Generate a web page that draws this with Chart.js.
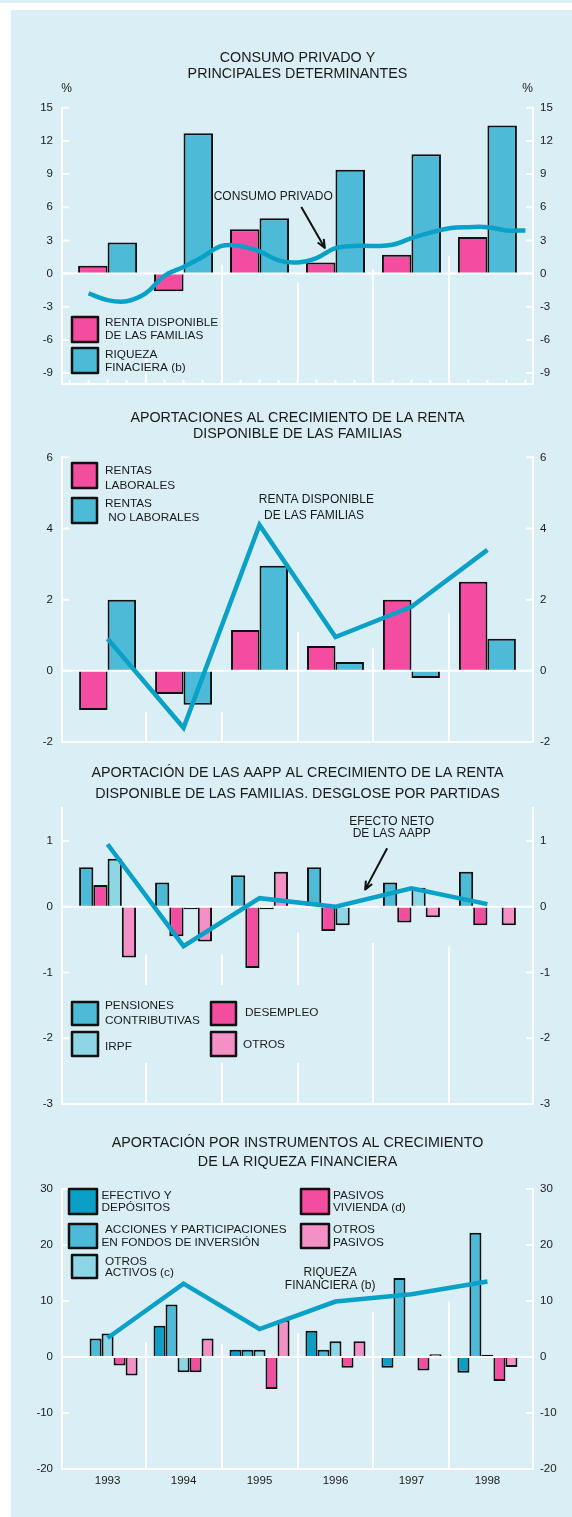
<!DOCTYPE html>
<html>
<head>
<meta charset="utf-8">
<script src="https://cdn.jsdelivr.net/npm/chart.js@4.4.1/dist/chart.umd.min.js"></script>
<style>
  body { margin: 0; background: #ffffff; width: 572px; height: 1517px; position: relative; overflow: hidden; }
  #strip { position: absolute; left: 0; top: 0; width: 572px; height: 3px; background: #d9eef5; }
  #box { position: absolute; left: 11px; top: 10px; width: 561px; height: 1507px; background: #d9eef5; }
  canvas { position: absolute; left: 0; }
</style>
</head>
<body>
<div id="strip"></div>
<div id="box"></div>
<canvas id="c1" width="572" height="360" style="top:40px"></canvas>
<canvas id="c2" width="572" height="360" style="top:400px"></canvas>
<canvas id="c3" width="572" height="360" style="top:760px"></canvas>
<canvas id="c4" width="572" height="397" style="top:1120px"></canvas>
<script>
// ---- data ----
var years = ['1993', '1994', '1995', '1996', '1997', '1998'];

// consumo privado y principales determinantes
var rentaDisponible = [0.7, -1.6, 4.0, 1.0, 1.7, 3.3];
var riquezaFinanciera = [2.8, 12.7, 5.0, 9.4, 10.8, 13.4];
var trimestres = [1993.25, 1993.5, 1993.75, 1994.0, 1994.25, 1994.5, 1994.75, 1995.0,
                  1995.25, 1995.5, 1995.75, 1996.0, 1996.25, 1996.5, 1996.75, 1997.0,
                  1997.25, 1997.5, 1997.75, 1998.0, 1998.25, 1998.5, 1998.75, 1999.0];
var consumoPrivado = [-1.8, -2.4, -2.5, -1.8, -0.2, 0.6, 1.5, 2.5,
                      2.5, 2.0, 1.2, 1.0, 1.4, 2.3, 2.5, 2.5,
                      2.6, 3.2, 3.7, 4.1, 4.2, 4.2, 3.9, 3.9];
var ticks1 = [-9, -6, -3, 0, 3, 6, 9, 12, 15];

// aportaciones al crecimiento de la renta disponible
var rentasLaborales = [-1.1, -0.65, 1.15, 0.7, 2.0, 2.5];
var rentasNoLaborales = [2.0, -0.95, 2.95, 0.25, -0.2, 0.9];
var rentaFamilias = [0.9, -1.6, 4.1, 0.95, 1.8, 3.4];
var ticks2 = [-2, 0, 2, 4, 6];

// aportacion de las AAPP
var pensiones = [0.6, 0.37, 0.48, 0.6, 0.37, 0.53];
var desempleo = [0.33, -0.45, -0.93, -0.37, -0.24, -0.28];
var irpf = [0.73, -0.04, -0.04, -0.28, 0.29, null];
var otros = [-0.77, -0.53, 0.53, null, -0.16, -0.28];
var efectoNeto = [0.95, -0.6, 0.13, 0.0, 0.28, 0.04];
var ticks3 = [-3, -2, -1, 0, 1];

// aportacion por instrumentos a la riqueza financiera
var efectivo = [0, 5.6, 1.3, 4.7, -1.9, -2.8];
var acciones = [3.3, 9.4, 1.3, 1.3, 14.1, 22.2];
var otrosActivos = [4.2, -2.7, 1.3, 2.8, null, 0.4];
var pasivosVivienda = [-1.5, -2.7, -5.7, -1.9, -2.4, -4.3];
var otrosPasivos = [-3.3, 3.3, 6.6, 2.8, 0.5, -1.8];
var riquezaLinea = [3.4, 13.1, 5.0, 9.9, 11.2, 13.5];
var ticks4 = [-20, -10, 0, 10, 20, 30];

// ---- style ----
var bg = '#d9eef5';
var pink = '#f24d9f', lightPink = '#f590c6';
var midBlue = '#4dbbd7', lightBlue = '#8ed5e5', darkBlue = '#0a9fc6';
var lineBlue = '#09a1c7';
var fontFamily = "'Liberation Sans', Arial, sans-serif";

Chart.defaults.font.family = fontFamily;
Chart.defaults.color = '#1a1a1a';

var centers = years.map(function (y) { return Number(y) + 0.5; });

function bar(label, data, color, pct) {
  return { type: 'bar', label: label, data: data, backgroundColor: color, borderColor: '#111111',
           borderWidth: 2, order: 1, categoryPercentage: pct, barPercentage: 1 };
}
function line(label, data, tension) {
  return { type: 'line', label: label, data: data, borderColor: lineBlue, borderWidth: 4.5,
           pointRadius: 0, tension: tension, order: 0, fill: false };
}

function yAxis(pos, min, max, vals, width, pad) {
  return {
    position: pos, min: min, max: max,
    afterBuildTicks: function (s) { s.ticks = vals.map(function (v) { return { value: v }; }); },
    afterFit: function (s) { s.width = width; },
    grid: { display: false, drawTicks: false },
    border: { display: true, color: '#ffffff', width: 2 },
    ticks: { padding: pad, font: { size: 11.5 } }
  };
}

function drawArrow(ctx, x1, y1, x2, y2) {
  var ang = Math.atan2(y2 - y1, x2 - x1), L = 9;
  ctx.beginPath();
  ctx.moveTo(x1, y1); ctx.lineTo(x2, y2);
  ctx.moveTo(x2 - L * Math.cos(ang - 0.4), y2 - L * Math.sin(ang - 0.4));
  ctx.lineTo(x2, y2);
  ctx.lineTo(x2 - L * Math.cos(ang + 0.4), y2 - L * Math.sin(ang + 0.4));
  ctx.stroke();
}

function decorPlugin(p) {
  return {
    id: 'decor',
    beforeDatasetsDraw: function (chart) {
      var ctx = chart.ctx, a = chart.chartArea, xs = chart.scales.x, ys = chart.scales.y;
      ctx.save();
      ctx.strokeStyle = '#ffffff';
      ctx.lineWidth = 2;
      ctx.beginPath();
      // year separators, only partly drawn like in the original
      p.sepTops.forEach(function (top, i) {
        var px = Math.round(xs.getPixelForValue(Number(years[i + 1])));
        ctx.moveTo(px, a.bottom);
        ctx.lineTo(px, ys.getPixelForValue(top));
      });
      ctx.moveTo(a.left, a.bottom); ctx.lineTo(a.right, a.bottom);
      ys.ticks.forEach(function (t) {
        var py = ys.getPixelForValue(t.value);
        ctx.moveTo(a.left, py); ctx.lineTo(a.left + 7, py);
        ctx.moveTo(a.right, py); ctx.lineTo(a.right - 7, py);
      });
      if (p.quarterTicks) {
        [1993].concat(trimestres).forEach(function (t) {
          var px = xs.getPixelForValue(t);
          ctx.moveTo(px, a.bottom); ctx.lineTo(px, a.bottom - 4);
        });
      }
      ctx.stroke();
      ctx.restore();
    },
    afterDatasetDraw: function (chart, args) {
      if (args.index !== 1) return;
      var ctx = chart.ctx, a = chart.chartArea, py = chart.scales.y.getPixelForValue(0);
      ctx.save();
      ctx.strokeStyle = '#ffffff';
      ctx.lineWidth = 2;
      ctx.beginPath(); ctx.moveTo(a.left, py); ctx.lineTo(a.right, py); ctx.stroke();
      ctx.restore();
    },
    afterDraw: function (chart) {
      var ctx = chart.ctx, a = chart.chartArea, xs = chart.scales.x, ys = chart.scales.y;
      ctx.save();
      if (p.legendBg) {
        ctx.fillStyle = bg;
        ctx.fillRect(a.left + p.legendBg[0], a.top + p.legendBg[1], p.legendBg[2], p.legendBg[3]);
      }
      ctx.font = '11.8px ' + fontFamily;
      ctx.textBaseline = 'middle';
      p.legend.forEach(function (it) {
        var ds = chart.data.datasets[it.ds];
        var bx = a.left + it.x, by = a.top + it.y;
        ctx.fillStyle = ds.backgroundColor;
        ctx.strokeStyle = '#111111';
        ctx.lineWidth = 2.5;
        ctx.lineJoin = 'round';
        ctx.fillRect(bx, by, it.w, it.h);
        ctx.strokeRect(bx, by, it.w, it.h);
        ctx.fillStyle = '#1a1a1a';
        ctx.textAlign = 'left';
        it.lines.forEach(function (l) { ctx.fillText(l[0], bx + l[1], by + l[2]); });
      });
      ctx.font = '12px ' + fontFamily;
      p.notes.forEach(function (n) {
        ctx.textAlign = n.align;
        ctx.fillText(n.text, xs.getPixelForValue(n.x), ys.getPixelForValue(n.y));
      });
      ctx.strokeStyle = '#111111';
      ctx.lineWidth = 2;
      p.arrows.forEach(function (r) {
        drawArrow(ctx, xs.getPixelForValue(r[0]), ys.getPixelForValue(r[1]),
                  xs.getPixelForValue(r[2]), ys.getPixelForValue(r[3]));
      });
      if (p.pct) {
        ctx.textAlign = 'center';
        ctx.fillText('%', a.left + 4.5, a.top - 19.5);
        ctx.fillText('%', a.right - 5.5, a.top - 19.5);
      }
      ctx.restore();
    }
  };
}

function makeChart(id, p) {
  return new Chart(document.getElementById(id), {
    type: 'bar',
    data: { labels: centers, datasets: p.datasets },
    options: {
      responsive: false,
      animation: false,
      events: [],
      layout: { padding: { top: p.padTop, bottom: p.padBottom, left: 0, right: 0 } },
      plugins: {
        legend: { display: false },
        tooltip: { enabled: false },
        title: {
          display: true, text: p.title, fullSize: false, color: '#1a1a1a',
          font: { size: 14.3, weight: 'normal', lineHeight: p.titleLH },
          padding: { top: 0, bottom: p.titleGap }
        }
      },
      scales: {
        x: {
          type: 'linear', min: 1992.9, max: 1999.1, offset: false,
          display: !!p.showYears,
          afterBuildTicks: function (s) { s.ticks = centers.map(function (v) { return { value: v }; }); },
          grid: { display: false, drawTicks: false },
          border: { display: false },
          ticks: {
            padding: 5, font: { size: 11.5 }, maxRotation: 0, autoSkip: false,
            callback: function (v) { return years[centers.indexOf(v)]; }
          }
        },
        y: yAxis('left', p.min, p.max, p.ticks, 62, 9),
        y2: yAxis('right', p.min, p.max, p.ticks, 39, 7)
      }
    },
    plugins: [decorPlugin(p)]
  });
}

// ---- panel 1 ----
makeChart('c1', {
  title: ['CONSUMO PRIVADO Y', 'PRINCIPALES DETERMINANTES'],
  padTop: 10.5, titleLH: 1.1, titleGap: 25.8, padBottom: 12,
  min: -10, max: 15, ticks: ticks1, pct: true, quarterTicks: true,
  datasets: [
    line('CONSUMO PRIVADO', trimestres.map(function (t, i) { return { x: t, y: consumoPrivado[i] }; }), 0.4),
    bar('RENTA DISPONIBLE DE LAS FAMILIAS', rentaDisponible, pink, 0.777),
    bar('RIQUEZA FINACIERA (b)', riquezaFinanciera, midBlue, 0.777)
  ],
  sepTops: [-7.7, 0.8, -0.8, 0.4, 1.6],
  legend: [
    { ds: 1, x: 10, y: 209.3, w: 26, h: 25, lines: [['RENTA DISPONIBLE', 33, 6], ['DE LAS FAMILIAS', 33, 19]] },
    { ds: 2, x: 10, y: 240.3, w: 26, h: 25, lines: [['RIQUEZA', 33, 7], ['FINACIERA (b)', 33, 20]] }
  ],
  notes: [{ text: 'CONSUMO PRIVADO', x: 1995.68, y: 6.93, align: 'center' }],
  arrows: [[1996.05, 6.03, 1996.36, 2.32]]
});

// ---- panel 2 ----
makeChart('c2', {
  title: ['APORTACIONES AL CRECIMIENTO DE LA RENTA', 'DISPONIBLE DE LAS FAMILIAS'],
  padTop: 10.3, titleLH: 1.12, titleGap: 15, padBottom: 18,
  min: -2, max: 6, ticks: ticks2,
  datasets: [
    line('RENTA DISPONIBLE DE LAS FAMILIAS', rentaFamilias, 0),
    bar('RENTAS LABORALES', rentasLaborales, pink, 0.75),
    bar('RENTAS NO LABORALES', rentasNoLaborales, midBlue, 0.75)
  ],
  sepTops: [-1.16, -1.16, 1.09, 0.64, 1.62],
  legend: [
    { ds: 1, x: 10, y: 5.7, w: 25, h: 25, lines: [['RENTAS', 33, 8], ['LABORALES', 33, 23]] },
    { ds: 2, x: 10, y: 40.7, w: 25, h: 25, lines: [['RENTAS', 33, 6], [' NO LABORALES', 33, 20]] }
  ],
  notes: [
    { text: 'RENTA DISPONIBLE', x: 1995.49, y: 4.81, align: 'left' },
    { text: 'DE LAS FAMILIAS', x: 1995.56, y: 4.36, align: 'left' }
  ],
  arrows: []
});

// ---- panel 3 ----
makeChart('c3', {
  title: ['APORTACIÓN DE LAS AAPP AL CRECIMIENTO DE LA RENTA', 'DISPONIBLE DE LAS FAMILIAS. DESGLOSE POR PARTIDAS'],
  padTop: 2.8, titleLH: 1.47, titleGap: 3.2, padBottom: 15,
  min: -3, max: 1.5, ticks: ticks3,
  datasets: [
    line('EFECTO NETO DE LAS AAPP', efectoNeto, 0),
    bar('PENSIONES CONTRIBUTIVAS', pensiones, midBlue, 0.75),
    bar('DESEMPLEO', desempleo, pink, 0.75),
    bar('IRPF', irpf, lightBlue, 0.75),
    bar('OTROS', otros, lightPink, 0.75)
  ],
  sepTops: [-0.73, -0.73, -0.39, -0.55, -0.6],
  legendBg: [8, 177, 252, 78],
  legend: [
    { ds: 1, x: 10, y: 194, w: 26, h: 23, lines: [['PENSIONES', 33, 4], ['CONTRIBUTIVAS', 33, 19]] },
    { ds: 3, x: 10, y: 224, w: 26, h: 24, lines: [['IRPF', 33, 15]] },
    { ds: 2, x: 149, y: 194, w: 25, h: 23, lines: [['DESEMPLEO', 34, 11]] },
    { ds: 4, x: 149, y: 224, w: 25, h: 24, lines: [['OTROS', 32, 13]] }
  ],
  notes: [
    { text: 'EFECTO NETO', x: 1997.24, y: 1.29, align: 'center' },
    { text: 'DE LAS AAPP', x: 1997.24, y: 1.11, align: 'center' }
  ],
  arrows: [[1997.18, 0.89, 1996.89, 0.26]]
});

// ---- panel 4 ----
makeChart('c4', {
  title: ['APORTACIÓN POR INSTRUMENTOS AL CRECIMIENTO', 'DE LA RIQUEZA FINANCIERA'],
  padTop: 13.8, titleLH: 1.33, titleGap: 17.2, padBottom: 24.2,
  min: -20, max: 30, ticks: ticks4, showYears: true,
  datasets: [
    line('RIQUEZA FINANCIERA (b)', riquezaLinea, 0),
    bar('EFECTIVO Y DEPÓSITOS', efectivo, darkBlue, 0.79),
    bar('ACCIONES Y PARTICIPACIONES EN FONDOS DE INVERSIÓN', acciones, midBlue, 0.79),
    bar('OTROS ACTIVOS (c)', otrosActivos, lightBlue, 0.79),
    bar('PASIVOS VIVIENDA (d)', pasivosVivienda, pink, 0.79),
    bar('OTROS PASIVOS', otrosPasivos, lightPink, 0.79)
  ],
  sepTops: [2.7, 2.3, 4.3, 8.1, 9.9],
  legend: [
    { ds: 1, x: 7, y: 0, w: 28, h: 25, lines: [['EFECTIVO Y', 32.5, 7], ['DEPÓSITOS', 32.5, 19]] },
    { ds: 2, x: 7, y: 35, w: 28, h: 24, lines: [['ACCIONES Y PARTICIPACIONES', 36, 6], ['EN FONDOS DE INVERSIÓN', 32.5, 19]] },
    { ds: 3, x: 10, y: 66, w: 25, h: 23, lines: [['OTROS', 33, 7], ['ACTIVOS (c)', 33, 18]] },
    { ds: 4, x: 239, y: 0, w: 28, h: 25, lines: [['PASIVOS', 32, 7], ['VIVIENDA (d)', 32, 19]] },
    { ds: 5, x: 239, y: 35, w: 28, h: 24, lines: [['OTROS', 32, 6], ['PASIVOS', 32, 19]] }
  ],
  notes: [
    { text: 'RIQUEZA', x: 1996.43, y: 15.0, align: 'center' },
    { text: 'FINANCIERA (b)', x: 1996.43, y: 12.7, align: 'center' }
  ],
  arrows: []
});
</script>
</body>
</html>
